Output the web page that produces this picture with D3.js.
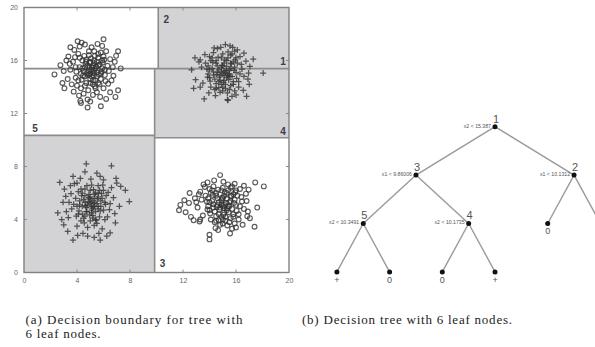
<!DOCTYPE html>
<html>
<head>
<meta charset="utf-8">
<script src="https://cdn.jsdelivr.net/npm/d3@7/dist/d3.min.js"></script>
<style>
  html, body { margin: 0; padding: 0; background: #fff; }
  svg { display: block; }
</style>
</head>
<body>
<svg id="fig" width="595" height="347"></svg>
<script>
// ---- data -------------------------------------------------------------
const axisTicks = [0, 4, 8, 12, 16, 20];

// class "0" samples, upper-left cloud
const circlesUpper = [
  [6.0,17.6],[4.35,17.35],[4.2,17.05],[7.1,16.7],[3.35,16.3],[6.85,15.9],[2.3,14.95],[3.05,13.9],
  [4.25,12.95],[4.8,12.45],[5.8,12.55],[7.1,13.75],[6.9,13.25],[4.8,13.05],[3.0,15.2],
  [5.1,15.3],[4.8,15.6],[5.5,15.1],[4.6,14.8],[5.3,15.8],[5.9,15.4],[4.2,15.5],[5.0,14.6],
  [5.6,16.2],[4.4,16.0],[5.2,14.2],[6.1,14.9],[3.9,14.7],[4.9,16.4],[5.7,15.7],[4.5,15.2],
  [5.4,14.5],[6.3,15.6],[3.7,15.9],[5.0,15.0],[4.7,14.3],[5.8,14.6],[4.1,16.5],[5.3,16.7],
  [6.5,16.1],[3.5,15.3],[4.3,13.9],[6.0,13.9],[5.5,13.6],[4.0,14.1],[6.6,14.5],[6.4,15.2],
  [3.8,16.8],[5.1,17.0],[5.8,16.6],[4.6,17.2],[3.3,14.6],[6.2,16.7],[5.2,13.4],[4.5,13.5],
  [3.6,14.2],[6.7,15.5],[5.45,15.55],[4.95,15.85],[5.25,14.85],[4.75,15.05],[5.65,14.95],
  [4.35,14.55],[5.85,15.15],[5.05,16.15],[4.55,16.35],[6.05,16.05],[3.95,15.15],[5.35,14.05],
  [4.85,13.75],[6.35,14.25],[3.45,15.75],[5.55,17.25],[4.15,13.35],[6.75,14.85],[5.75,13.25],
  [3.75,13.65],[6.95,16.35],[2.75,15.65],[4.05,17.45],[5.15,15.45],[4.65,15.75],[5.95,15.85],
  [4.45,14.85],[5.35,16.35],[6.15,14.45],[3.85,16.25],[5.6,14.3],[4.9,14.95],[5.3,15.25],
  [4.7,16.05],[6.5,13.6],[3.2,16.0],[5.9,17.1],[4.3,12.8],[5.0,12.9],[6.2,13.1],[2.9,14.3],
  [7.3,15.4],[3.5,17.0],
  [5.2,15.6],[4.9,15.2],[5.4,15.4],[5.0,15.9],[4.6,15.5],[5.6,15.6],[5.1,14.8],[4.8,14.9],
  [5.5,14.8],[5.3,16.0],[4.4,15.4],[5.8,15.0],[4.7,15.9],[5.2,14.5],[5.9,16.0],[4.3,15.0],
  [5.6,16.5],[4.9,16.7],[5.4,13.9],[4.6,14.1],[6.1,15.3],[3.9,15.5],[5.0,14.3],[5.7,14.2],
  [4.2,16.2],[6.0,16.3],[4.1,14.5],[5.5,15.9],[4.95,15.45],[5.25,15.05]
];

// class "+" samples, upper-right cloud
const plusUpper = [
  [18.05,15.05],[16.95,15.05],[12.65,15.3],[13.6,13.1],[15.35,13.05],[15.4,13.0],[16.8,13.3],
  [12.8,13.9],[15.55,17.1],[13.3,16.05],[17.0,14.2],[15.2,17.2],[14.6,16.9],[16.1,16.8],
  [15.0,15.0],[14.7,15.3],[15.3,14.7],[14.4,14.6],[15.6,15.4],[15.1,15.8],[14.2,15.4],[15.8,14.4],
  [14.9,14.2],[15.4,16.2],[14.5,16.0],[16.0,15.1],[13.9,15.0],[15.2,13.9],[14.1,14.0],[16.2,14.0],
  [15.7,16.5],[14.3,16.6],[13.7,15.8],[16.4,15.7],[14.8,13.6],[15.9,13.7],[13.5,14.3],[16.6,14.8],
  [14.0,16.3],[15.5,15.0],[14.6,15.6],[15.0,16.5],[14.4,13.8],[16.3,16.3],[13.4,15.5],[15.7,13.3],
  [14.9,15.45],[15.25,15.25],[14.55,14.95],[15.45,14.55],[14.75,14.75],[15.05,14.35],[15.65,15.75],
  [14.25,15.85],[15.85,15.25],[14.05,14.45],[16.05,14.65],[15.15,16.05],[14.65,16.25],[15.35,13.55],
  [13.85,14.75],[16.45,15.35],[14.45,13.35],[15.95,16.05],[13.65,16.45],[16.75,15.95],[14.85,17.0],
  [15.75,17.0],[13.95,13.55],[16.55,13.75],[12.95,14.55],[17.05,15.55],[15.1,14.85],[14.9,15.15],
  [15.3,15.55],[14.5,14.25],[15.6,14.1],[14.3,15.15],[15.8,15.9],[14.1,16.0],[16.2,14.4],
  [13.8,15.35],[15.4,16.65],[14.7,13.95],[15.0,13.7],[16.0,13.4],[13.2,15.9],[16.9,14.6],
  [14.35,16.95],[15.9,16.7],[13.3,14.0],[17.3,16.1],[12.9,16.2],[16.6,16.55],[14.8,14.5],
  [15.2,15.1],[15.55,14.8],
  [15.1,15.2],[14.8,14.9],[15.4,15.0],[15.0,15.6],[14.6,15.1],[15.5,15.3],[15.1,14.5],[14.7,14.4],
  [15.7,14.8],[15.3,16.0],[14.3,14.9],[15.9,15.5],[14.5,15.8],[15.2,14.2],[16.1,15.8],[14.0,15.3],
  [15.6,16.4],[14.9,16.2],[15.5,13.8],[14.5,13.9],[16.3,15.0],[13.9,15.6],[15.0,14.0],[15.8,14.2],
  [14.2,16.2],[16.0,16.2],[14.0,14.7],[15.6,15.8],[14.95,15.65],[15.35,14.85]
];

// class "+" samples, lower-left cloud
const plusLower = [
  [4.7,8.2],[6.6,8.05],[2.7,6.8],[3.7,7.25],[7.0,6.75],[7.65,6.2],[7.95,5.35],[2.55,4.5],
  [3.7,2.45],[5.75,2.45],[4.8,2.75],[6.5,3.0],[2.85,4.0],[5.75,7.25],[3.8,6.7],[4.0,6.75],[6.0,7.0],
  [5.0,5.2],[5.3,5.6],[4.7,4.9],[5.6,5.0],[4.5,5.5],[5.1,4.5],[5.4,6.0],[4.2,5.1],[5.8,5.4],
  [4.9,5.9],[5.2,4.1],[4.4,4.4],[6.0,4.7],[3.9,5.6],[5.7,6.2],[4.6,6.3],[6.2,5.8],[3.6,4.8],
  [5.5,3.7],[4.3,3.9],[6.3,4.2],[4.8,3.4],[3.4,5.3],[6.5,5.2],[5.9,3.3],[4.1,6.1],[5.1,6.6],
  [3.2,4.6],[6.6,6.4],[4.0,3.5],[5.35,5.25],[4.85,5.35],[5.15,4.85],[4.65,5.05],[5.55,5.55],
  [4.35,5.8],[5.25,6.25],[4.95,4.35],[5.75,4.65],[4.15,4.65],[5.85,5.95],[3.75,5.15],[6.15,5.15],
  [4.55,3.75],[5.45,3.95],[6.45,4.75],[3.55,5.95],[4.75,6.55],[6.35,6.05],[3.35,4.15],[5.65,2.95],
  [4.45,2.95],[6.85,4.45],[3.15,5.75],[5.05,7.05],[6.75,5.65],[4.25,7.1],[3.05,6.3],[7.2,5.0],
  [3.0,3.6],[5.1,5.0],[4.9,5.65],[5.4,4.6],[4.6,4.25],[5.6,6.55],[4.4,6.0],[6.1,4.0],[3.95,4.25],
  [5.3,3.55],[5.95,6.6],[3.5,6.55],[6.9,3.75],[4.05,2.8],[5.3,2.65],[6.25,2.75],[7.3,6.5],
  [2.95,5.3],[4.6,7.6],[5.5,7.5],[3.3,3.1],[6.95,7.1],[5.2,5.4],[4.75,4.6],
  [5.1,5.3],[4.8,5.1],[5.3,5.0],[5.0,5.7],[4.6,5.3],[5.5,5.2],[5.1,4.7],[4.7,4.6],[5.6,4.8],
  [5.3,5.9],[4.4,5.0],[5.8,5.0],[4.6,5.8],[5.2,4.3],[5.9,5.6],[4.2,5.4],[5.6,6.0],[5.0,6.2],
  [5.4,4.0],[4.5,4.1],[6.1,5.3],[4.0,5.0],[5.0,3.9],[5.7,4.2],[4.3,6.3],[6.0,6.2],[4.1,4.4],
  [5.6,5.7],[4.95,5.55],[5.25,4.95]
];

// class "0" samples, lower-right cloud
const circlesLower = [
  [14.8,7.35],[15.05,6.85],[13.55,6.65],[13.85,6.8],[17.45,6.8],[18.1,6.5],[16.95,6.25],[11.8,5.1],
  [11.7,4.7],[12.2,4.55],[12.8,3.95],[14.0,2.85],[14.0,2.5],[15.55,2.95],[17.4,3.45],[17.05,4.1],
  [14.65,3.2],[15.0,5.0],[14.7,5.3],[15.3,4.7],[14.4,4.6],[15.6,5.4],[15.1,5.8],[14.2,5.4],
  [15.8,4.4],[14.9,4.2],[15.4,6.2],[14.5,6.0],[16.0,5.1],[13.9,5.0],[15.2,3.9],[14.1,4.0],
  [16.2,4.0],[15.7,6.5],[14.3,6.5],[13.7,5.8],[16.4,5.7],[14.8,3.6],[15.9,3.7],[13.5,4.3],
  [16.6,4.8],[14.0,6.3],[15.5,5.0],[14.6,5.6],[15.0,6.4],[14.4,3.8],[16.3,6.3],[13.4,5.5],
  [15.7,3.3],[13.1,4.9],[12.9,5.6],[12.6,4.2],[13.3,6.1],[16.8,5.4],[16.5,3.6],[14.9,5.45],
  [15.25,5.25],[14.55,4.95],[15.45,4.55],[14.75,4.75],[15.05,4.35],[15.65,5.75],[14.25,5.85],
  [15.85,5.25],[14.05,4.45],[16.05,4.65],[15.15,6.05],[14.65,6.25],[15.35,3.55],[13.85,4.75],
  [16.45,5.35],[14.45,3.35],[15.95,6.05],[13.65,6.45],[16.75,5.95],[13.25,3.85],[16.85,4.25],
  [12.45,5.25],[15.1,4.85],[14.9,5.15],[15.3,5.55],[14.5,4.25],[15.6,4.1],[14.3,5.15],[15.8,5.9],
  [14.1,6.0],[16.2,4.4],[13.8,5.35],[15.4,6.65],[14.7,3.95],[15.0,3.7],[16.0,3.4],[13.2,5.9],
  [16.9,4.6],[14.35,6.95],[15.9,6.7],[13.3,4.0],[16.6,6.55],[13.0,5.3],[17.6,4.9],[12.1,5.45],
  [12.5,6.0],
  [15.1,5.1],[14.8,4.9],[15.4,5.0],[15.0,5.6],[14.6,5.1],[15.5,5.3],[15.1,4.5],[14.7,4.4],
  [15.7,4.8],[15.3,6.0],[14.3,4.9],[15.9,5.5],[14.5,5.8],[15.2,4.2],[16.1,5.8],[14.0,5.3],
  [15.6,6.4],[14.9,6.2],[15.5,3.8],[14.5,3.9],[16.3,5.0],[13.9,5.6],[15.0,4.0],[15.8,4.2],
  [14.2,6.2],[16.0,6.2],[14.0,4.7],[15.6,5.8],[14.95,5.65],[15.35,4.85]
];

// fitted decision tree: internal nodes carry a split, leaves a class
const treeSpec = {
  id: "1", feature: "x2", threshold: 15.387, children: [
    { id: "3", feature: "x1", threshold: 9.86006, children: [
      { id: "5", feature: "x2", threshold: 10.3491, children: [
        { leaf: "+" }, { leaf: "0" } ] },
      { id: "4", feature: "x2", threshold: 10.1735, children: [
        { leaf: "0" }, { leaf: "+" } ] }
    ] },
    { id: "2", feature: "x1", threshold: 10.1312, children: [
      { leaf: "0" }, { leaf: "+" } ] }
  ]
};

const captionA = ["(a) Decision boundary for tree with", "6 leaf nodes."];
const captionB = "(b) Decision tree with 6 leaf nodes.";

// ---- drawing ----------------------------------------------------------
const W = 595;
const svg = d3.select("#fig");
const x = d3.scaleLinear().domain([0, 20]).range([24, 289]);
const y = d3.scaleLinear().domain([0, 20]).range([272.5, 7.5]);

const plot = svg.append("g");

// partition rectangles from the tree splits
const regions = [];
const splitLines = [];
(function partition(node, box) {
  if (node.leaf !== undefined) { regions.push({ box, cls: node.leaf }); return; }
  const b = box;
  if (node.feature === "x1") {
    splitLines.push({ id: node.id, x1: node.threshold, x2: node.threshold, y1: b.y0, y2: b.y1 });
    partition(node.children[0], { x0: b.x0, x1: node.threshold, y0: b.y0, y1: b.y1 });
    partition(node.children[1], { x0: node.threshold, x1: b.x1, y0: b.y0, y1: b.y1 });
  } else {
    splitLines.push({ id: node.id, x1: b.x0, x2: b.x1, y1: node.threshold, y2: node.threshold });
    partition(node.children[0], { x0: b.x0, x1: b.x1, y0: b.y0, y1: node.threshold });
    partition(node.children[1], { x0: b.x0, x1: b.x1, y0: node.threshold, y1: b.y1 });
  }
})(treeSpec, { x0: 0, x1: 20, y0: 0, y1: 20 });

plot.selectAll("rect.region").data(regions).join("rect")
  .attr("class", "region")
  .attr("x", d => x(d.box.x0))
  .attr("y", d => y(d.box.y1))
  .attr("width", d => x(d.box.x1) - x(d.box.x0))
  .attr("height", d => y(d.box.y0) - y(d.box.y1))
  .attr("fill", d => d.cls === "+" ? "#d3d3d5" : "#ffffff");

// mirrored inward ticks
const tickG = plot.append("g").attr("stroke", "#8a8a8a").attr("stroke-width", 1);
axisTicks.slice(1, -1).forEach(t => {
  tickG.append("line").attr("x1", x(t)).attr("x2", x(t)).attr("y1", y(0)).attr("y2", y(0) - 3);
  tickG.append("line").attr("x1", x(t)).attr("x2", x(t)).attr("y1", y(20)).attr("y2", y(20) + 3);
  tickG.append("line").attr("y1", y(t)).attr("y2", y(t)).attr("x1", x(0)).attr("x2", x(0) + 3);
  tickG.append("line").attr("y1", y(t)).attr("y2", y(t)).attr("x1", x(20)).attr("x2", x(20) - 3);
});

// split boundaries
plot.selectAll("line.split").data(splitLines).join("line")
  .attr("class", "split")
  .attr("x1", d => x(d.x1)).attr("x2", d => x(d.x2))
  .attr("y1", d => y(d.y1)).attr("y2", d => y(d.y2))
  .attr("stroke", "#8c8c8c").attr("stroke-width", 1.6);

// frame
plot.append("rect")
  .attr("x", x(0)).attr("y", y(20))
  .attr("width", x(20) - x(0)).attr("height", y(0) - y(20))
  .attr("fill", "none").attr("stroke", "#808080").attr("stroke-width", 1.4);

// tick labels via d3 axes (domain and tick lines hidden)
const xAxis = plot.append("g").attr("transform", `translate(0,${y(0)})`)
  .call(d3.axisBottom(x).tickValues(axisTicks).tickSize(0).tickPadding(6));
const yAxis = plot.append("g").attr("transform", `translate(${x(0)},0)`)
  .call(d3.axisLeft(y).tickValues(axisTicks).tickSize(0).tickPadding(6));
[xAxis, yAxis].forEach(g => {
  g.select(".domain").remove();
  g.selectAll("text").attr("fill", "#666").style("font-family", "Liberation Sans, Arial, sans-serif").style("font-size", "7px");
});

// samples
const pts = plot.append("g").attr("fill", "none").attr("stroke", "#333").attr("stroke-opacity", 0.8);
pts.selectAll("circle").data(circlesUpper.concat(circlesLower)).join("circle")
  .attr("cx", d => x(d[0])).attr("cy", d => y(d[1])).attr("r", 2.4).attr("stroke-width", 1.15);
pts.selectAll("path").data(plusUpper.concat(plusLower)).join("path")
  .attr("d", d => `M${x(d[0]) - 3},${y(d[1])}h6M${x(d[0])},${y(d[1]) - 3}v6`)
  .attr("stroke-width", 1.25);

// region numbers
const splitById = Object.fromEntries(splitLines.map(s => [s.id, s]));
const regionLabels = [
  { id: "1", px: s => x(s.x2) - 6, py: s => y(s.y1) - 7 },
  { id: "2", px: s => x(s.x1) + 8, py: s => y(s.y2) + 12 },
  { id: "3", px: s => x(s.x1) + 8, py: s => y(s.y1) - 9 },
  { id: "4", px: s => x(s.x2) - 6, py: s => y(s.y1) - 6 },
  { id: "5", px: s => x(s.x1) + 11, py: s => y(s.y1) - 7 }
];
plot.selectAll("text.region-id").data(regionLabels).join("text")
  .attr("class", "region-id")
  .attr("x", d => d.px(splitById[d.id]))
  .attr("y", d => d.py(splitById[d.id]))
  .attr("text-anchor", "middle").attr("dominant-baseline", "central")
  .attr("fill", "#3d3d48")
  .style("font-family", "Liberation Sans, Arial, sans-serif")
  .style("font-size", "10px").style("font-weight", "bold")
  .text(d => d.id);

// ---- tree diagram ------------------------------------------------------
// leaves evenly spaced in order, each node placed at its own depth
const ox = 495, oy = 126.7;
const root = d3.hierarchy(treeSpec);
d3.cluster().nodeSize([52.7, 48.4]).separation(() => 1)(root);
root.each(d => { d.y = d.depth * 48.4; });
const treeG = svg.append("g").attr("transform", `translate(${ox},${oy})`);

treeG.selectAll("line.link").data(root.links()).join("line")
  .attr("class", "link")
  .attr("x1", d => d.source.x).attr("y1", d => d.source.y)
  .attr("x2", d => d.target.x).attr("y2", d => d.target.y)
  .attr("stroke", "#9a9a9a").attr("stroke-width", 1.4);

treeG.selectAll("circle.node").data(root.descendants()).join("circle")
  .attr("class", "node")
  .attr("cx", d => d.x).attr("cy", d => d.y).attr("r", 2.5)
  .attr("fill", "#111");

const internal = root.descendants().filter(d => d.children);
// class labels only for leaves that fall inside the figure width
const leaves = root.leaves().filter(d => ox + d.x + 3 < W);

treeG.selectAll("text.nid").data(internal).join("text")
  .attr("class", "nid")
  .attr("x", d => d.x + 1).attr("y", d => d.y - 4)
  .attr("text-anchor", "middle")
  .attr("fill", "#555")
  .style("font-family", "Liberation Sans, Arial, sans-serif").style("font-size", "11px")
  .text(d => d.data.id);

treeG.selectAll("text.rule").data(internal).join("text")
  .attr("class", "rule")
  .attr("x", d => d.x - 4).attr("y", d => d.y - 1.2)
  .attr("text-anchor", "end").attr("dominant-baseline", "central")
  .attr("fill", "#555")
  .style("font-family", "Liberation Sans, Arial, sans-serif").style("font-size", "5.2px")
  .text(d => `${d.data.feature} < ${d.data.threshold}`);

treeG.selectAll("text.cls").data(leaves).join("text")
  .attr("class", "cls")
  .attr("x", d => d.x).attr("y", d => d.y + 11)
  .attr("text-anchor", "middle")
  .attr("fill", "#555")
  .style("font-family", "Liberation Sans, Arial, sans-serif").style("font-size", "9px")
  .text(d => d.data.leaf);

// ---- captions -----------------------------------------------------------
const capStyle = sel => sel.attr("fill", "#222")
  .style("font-family", "Liberation Serif, Times New Roman, serif").style("font-size", "13px");
svg.append("text").attr("x", 25.5).attr("y", 323.5).attr("textLength", 217).attr("lengthAdjust", "spacing")
  .call(capStyle).text(captionA[0]);
svg.append("text").attr("x", 25.5).attr("y", 337.5).attr("textLength", 75).attr("lengthAdjust", "spacing")
  .call(capStyle).text(captionA[1]);
svg.append("text").attr("x", 302).attr("y", 323.5).attr("textLength", 210).attr("lengthAdjust", "spacing")
  .call(capStyle).text(captionB);
</script>
</body>
</html>
